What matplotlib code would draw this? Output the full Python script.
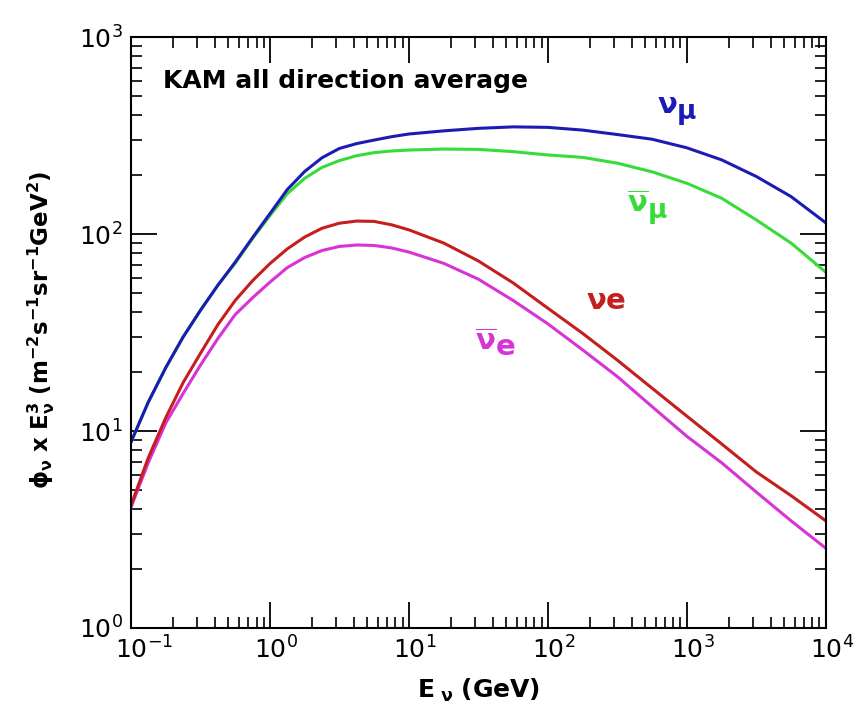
import matplotlib
matplotlib.use('Agg')
import matplotlib.pyplot as plt
import matplotlib.ticker as mticker
import matplotlib.transforms as mtrans

# neutrino energy grid (GeV), eighth-decade steps up to 10 GeV, quarter-decade above
energy = [0.1, 0.133, 0.178, 0.237, 0.316, 0.422, 0.562, 0.750, 1.0, 1.33, 1.78,
          2.37, 3.16, 4.22, 5.62, 7.50, 10.0, 17.8, 31.6, 56.2, 100.0, 178.0,
          316.0, 562.0, 1000.0, 1780.0, 3160.0, 5620.0, 10000.0]

# flux x E^3  (m^-2 s^-1 sr^-1 GeV^2)
nu_mu = [8.8, 14.0, 21.0, 30.0, 41.0, 55.0, 72.0, 96.0, 127.0, 168.0, 208.0,
         244.0, 272.0, 288.0, 300.0, 312.0, 322.0, 334.0, 344.0, 350.0, 348.0,
         337.0, 320.0, 303.0, 274.0, 238.0, 196.0, 155.0, 114.0]
nu_mu_bar = [8.8, 14.0, 21.0, 30.0, 41.0, 55.0, 71.0, 95.0, 124.0, 160.0, 192.0,
             218.0, 236.0, 250.0, 259.0, 264.0, 267.0, 270.0, 269.0, 262.0, 252.0,
             245.0, 229.0, 207.0, 181.0, 152.0, 118.0, 90.0, 64.0]
nu_e = [4.2, 7.3, 11.7, 17.6, 24.8, 34.7, 46.0, 58.0, 70.8, 84.0, 96.6,
        107.0, 113.5, 116.4, 115.9, 111.4, 105.0, 90.0, 73.0, 56.5, 42.0,
        31.3, 22.9, 16.5, 11.9, 8.6, 6.2, 4.7, 3.5]
nu_e_bar = [4.1, 6.9, 11.0, 15.5, 21.6, 29.5, 39.0, 47.5, 57.0, 67.5, 76.0,
            82.5, 86.5, 88.0, 87.5, 85.0, 81.0, 71.0, 59.0, 46.0, 35.0,
            25.8, 18.9, 13.3, 9.4, 6.9, 4.9, 3.5, 2.54]

xdecades = [-1, 0, 1, 2, 3, 4]

BLUE = '#1c1cb4'
GREEN = '#38dc38'
RED = '#c41e1e'
MAGENTA = '#d733d7'

plt.rcParams['font.family'] = 'DejaVu Sans'
plt.rcParams['mathtext.fontset'] = 'dejavusans'

fig = plt.figure(figsize=(8.62, 7.06), dpi=100)
ax = fig.add_axes((0.152, 0.1105, 0.806, 0.837))

lw = 2.2
ax.plot(energy, nu_e_bar, color=MAGENTA, lw=lw)
ax.plot(energy, nu_e, color=RED, lw=lw)
ax.plot(energy, nu_mu_bar, color=GREEN, lw=lw)
ax.plot(energy, nu_mu, color=BLUE, lw=lw)

ax.set_xscale('log')
ax.set_yscale('log')
ax.set_xlim(0.1, 1e4)
ax.set_ylim(1, 1e3)

# minor ticks at 2..9 of every decade
xminor = [m * 10.0 ** d for d in range(-1, 4) for m in range(2, 10)]
yminor = [m * 10.0 ** d for d in range(0, 3) for m in range(2, 10)]
ax.xaxis.set_minor_locator(mticker.FixedLocator(xminor))
ax.yaxis.set_minor_locator(mticker.FixedLocator(yminor))
ax.xaxis.set_minor_formatter(mticker.NullFormatter())
ax.yaxis.set_minor_formatter(mticker.NullFormatter())

for s in ax.spines.values():
    s.set_linewidth(1.5)
ax.tick_params(which='both', direction='in', top=True, right=True, labelsize=18)
ax.tick_params(which='major', length=19, width=1.3)
ax.tick_params(which='minor', length=8, width=1.2)
ax.tick_params(axis='y', which='major', pad=6)
ax.tick_params(axis='x', labelbottom=False)

# x tick labels drawn by hand so the "10" sits centred on the tick
lab_tr = mtrans.offset_copy(mtrans.blended_transform_factory(ax.transData, ax.transAxes),
                            fig=fig, x=-16, y=-8, units='dots')
for d in xdecades:
    ax.text(10.0 ** d, 0, r'$\mathdefault{10^{%d}}$' % d, transform=lab_tr,
            fontsize=18, ha='left', va='top')

ax.set_xlabel(r'$\mathbf{E_{\ \nu}\ (GeV)}$', fontsize=18)
ax.xaxis.set_label_coords(0.5, -0.083)
ax.set_ylabel(r'$\mathbf{\phi_{\nu}\ x\ E_{\nu}^{3}\ (m^{-2}s^{-1}sr^{-1}GeV^{2})}$',
              fontsize=16.5)
ax.yaxis.set_label_coords(-0.106, 0.504)

ax.text(0.046, 0.914, 'KAM all direction average', transform=ax.transAxes,
        fontsize=18, fontweight='bold', ha='left', va='baseline')

# curve labels
ax.text(718, 411, r'$\mathbf{\nu}$', color=BLUE, fontsize=21, ha='center', va='baseline')
ax.text(984, 384, r'$\mathbf{\mu}$', color=BLUE, fontsize=19, ha='center', va='baseline')
ax.text(441, 129, r'$\mathbf{\overline{\nu}}$', color=GREEN, fontsize=21, ha='center', va='baseline')
ax.text(614, 120.5, r'$\mathbf{\mu}$', color=GREEN, fontsize=19, ha='center', va='baseline')
ax.text(261, 41.6, r'$\mathbf{\nu e}$', color=RED, fontsize=21, ha='center', va='baseline')
ax.text(35.8, 25.8, r'$\mathbf{\overline{\nu}}$', color=MAGENTA, fontsize=21, ha='center', va='baseline')
ax.text(49, 24.3, r'$\mathbf{e}$', color=MAGENTA, fontsize=21, ha='center', va='baseline')

fig.savefig('out.png', dpi=100)
